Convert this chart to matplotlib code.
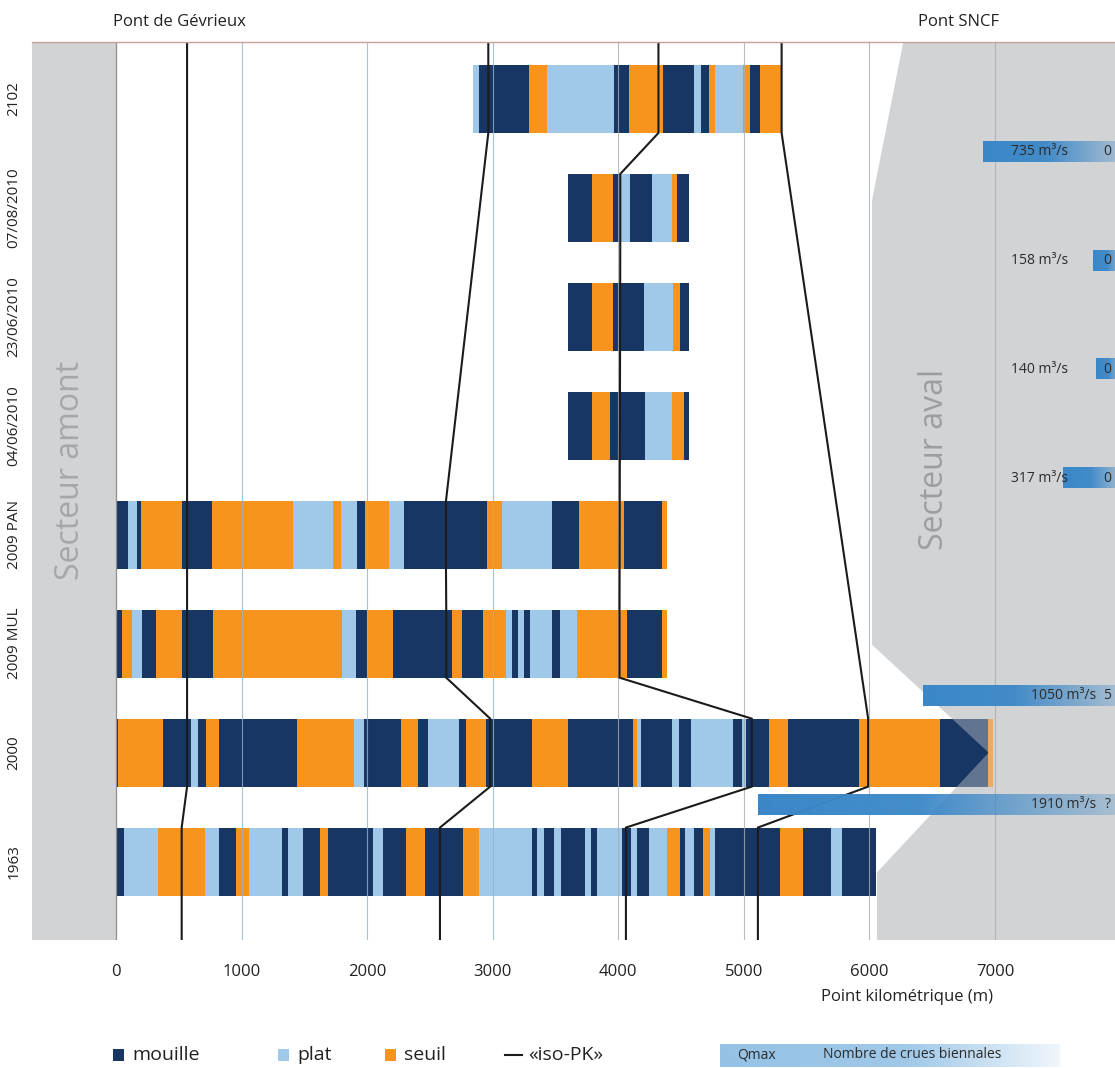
import numpy as np
import matplotlib
matplotlib.use("Agg")
import matplotlib.pyplot as plt
from matplotlib.patches import Rectangle, Polygon
from matplotlib.colors import to_rgba

plt.rcParams["font.family"] = ["Open Sans", "DejaVu Sans"]

# survey rows, top to bottom
rows = ["2102", "07/08/2010", "23/06/2010", "04/06/2010",
        "2009 PAN", "2009 MUL", "2000", "1963"]

# facies boundaries (PK, m) and class of each segment: m=mouille, p=plat, s=seuil
bounds_2102 = [2840, 2893, 3291, 3434, 3965, 4087, 4353, 4604, 4655, 4724, 4772,
               4994, 5048, 5127, 5300]
facies_2102 = "pmspmsmpmspsms"
bounds_0708 = [3601, 3792, 3959, 4007, 4092, 4270, 4424, 4464, 4565]
facies_0708 = "msmpmpsm"
bounds_2306 = [3601, 3792, 3959, 4204, 4432, 4490, 4565]
facies_2306 = "msmpsm"
bounds_0406 = [3601, 3792, 3933, 4212, 4424, 4522, 4565]
facies_0406 = "msmpsm"
bounds_pan = [0, 98, 170, 199, 523, 762, 1412, 1730, 1791, 1921, 1982, 2174, 2293,
              2956, 3076, 3474, 3686, 4045, 4345, 4385]
facies_pan = "mpmsmspspmspmspmsms"
bounds_mul = [0, 50, 130, 209, 318, 523, 770, 1797, 1911, 1996, 2203, 2673, 2752,
              2924, 3103, 3155, 3203, 3251, 3296, 3474, 3535, 3673, 4066, 4345, 4385]
facies_mul = "mspmsmspmsmsmspmpmpmpsms"
bounds_2000 = [0, 16, 372, 595, 655, 714, 822, 1443, 1895, 1975, 2267, 2407, 2486,
               2733, 2787, 2946, 3310, 3601, 4119, 4146, 4178, 4424, 4482, 4576,
               4910, 4982, 5021, 5201, 5353, 5918, 6561, 6945, 6985]
facies_2000 = "msmpmsmspmsmpmsmsmspmpmpmpmsmsms"
bounds_1963 = [0, 64, 337, 709, 822, 955, 1061, 1324, 1367, 1486, 1624, 1686, 2049,
               2128, 2307, 2460, 2765, 2890, 3310, 3349, 3410, 3490, 3541, 3734,
               3779, 3832, 4026, 4100, 4150, 4246, 4385, 4490, 4530, 4602, 4671,
               4729, 4769, 5287, 5472, 5693, 5783, 6056]
facies_1963 = "mpspmspmpmsmpmsmspmpmpmpmpmpmpsmpmspmsmpm"

all_bounds = [bounds_2102, bounds_0708, bounds_2306, bounds_0406,
              bounds_pan, bounds_mul, bounds_2000, bounds_1963]
all_facies = [facies_2102, facies_0708, facies_2306, facies_0406,
              facies_pan, facies_mul, facies_2000, facies_1963]

# iso-PK lines: rows where the line is anchored and its PK there
iso_rows = [[0, 6, 7], [0, 4, 5, 6, 7], [0, 1, 5, 6, 7], [0, 6, 7]]
iso_pk = [[566, 566, 523], [2965, 2628, 2630, 2980, 2580],
          [4320, 4016, 4010, 5063, 4061], [5301, 5990, 5112]]

# flood between two surveys (below row k): Qmax (m3/s) and nb of biennial floods
qmax = [735, 158, 140, 317, None, 1050, 1910]
n_crues = ["0", "0", "0", "0", None, "5", "?"]

# downstream sector outline (PK, row)
aval_pk = [6283, 6021, 6021, 6950, 6060, 6060, 8100, 8100]
aval_row = [-0.6, 0.93, 5.01, 6.0, 7.10, 7.8, 7.8, -0.6]

ticks = [0, 1000, 2000, 3000, 4000, 5000, 6000, 7000]

colors = {"m": "#183663", "p": "#9fc8e9", "s": "#f7941d"}
GREY = "#d1d3d4"
QBLUE = "#3a87c8"
W, H = 1115, 1068
XMIN, XMAX = -669, 7956
YTOP, YBOT = -0.523, 7.72
BAR_H = 0.624

fig = plt.figure(figsize=(W / 100, H / 100), dpi=100)
ax = fig.add_axes([32 / W, 1 - 940 / H, (W - 32) / W, (940 - 42) / H])

# sectors
ax.axvspan(XMIN, 0, color=GREY, lw=0, zorder=0)
aval = Polygon(np.column_stack([aval_pk, aval_row]), closed=True,
               facecolor=GREY, edgecolor="none", zorder=0)
ax.add_patch(aval)
ax.text(-366, 3.41, "Secteur amont", rotation=90, ha="center", va="center",
        fontsize=23, color="#a5a7aa", zorder=1)
ax.text(6522, 3.31, "Secteur aval", rotation=90, ha="center", va="center",
        fontsize=23, color="#9c9ea1", zorder=1)

# facies bars
for i, (b, f) in enumerate(zip(all_bounds, all_facies)):
    b = np.array(b)
    ax.barh(np.full(len(f), i), np.diff(b), left=b[:-1], height=BAR_H,
            color=[colors[c] for c in f], linewidth=0, zorder=2)

# grey wedge over the end of the 2000 bar
b2000 = all_bounds[6]
clip = Rectangle((b2000[0], 6 - BAR_H / 2), b2000[-1] - b2000[0], BAR_H,
                 transform=ax.transData)
over = Polygon(np.column_stack([aval_pk, aval_row]), closed=True,
               facecolor=GREY, edgecolor="none", alpha=0.4, zorder=3)
ax.add_patch(over)
over.set_clip_path(clip)

# grid
for t in ticks[1:]:
    ax.axvline(t, color="#8fb4d0" if t <= 3000 else "#a9abae", lw=0.8,
               alpha=0.8, zorder=3.5)
ax.axvline(0, color="#8d8f92", lw=0.9, zorder=3.5)

# iso-PK lines
for rr, pp in zip(iso_rows, iso_pk):
    xs, ys = [pp[0]], [YTOP]
    for r, p in zip(rr, pp):
        xs += [p, p]
        ys += [r - BAR_H / 2, r + BAR_H / 2]
    xs.append(pp[-1])
    ys.append(YBOT)
    ax.plot(xs, ys, color="#1b1b1b", lw=1.5, zorder=5, solid_joinstyle="miter")

# Qmax bars
QEND, QSCALE, QH = 8020, 1.52, 0.19
ramp = np.linspace(0, 1, 256)
grad = np.zeros((1, 256, 4))
grad[0, :, :3] = to_rgba(QBLUE)[:3]
grad[0, :, 3] = np.interp(ramp, [0, 0.45, 1], [1, 0.95, 0.25])
for k, (q, n) in enumerate(zip(qmax, n_crues)):
    if q is None:
        continue
    y = k + 0.48
    ax.imshow(grad, extent=[QEND - q * QSCALE, QEND, y + QH / 2, y - QH / 2],
              aspect="auto", interpolation="bilinear", zorder=6)
    xt = 7804 if q > 1000 else 7581
    ax.text(xt, y, f"{q} m³/s", ha="right", va="center", fontsize=10,
            color="#2b2b2b", zorder=7)
    ax.text(7895, y, n, ha="center", va="center", fontsize=10,
            color="#2b2b2b", zorder=7)

ax.set_xlim(XMIN, XMAX)
ax.set_ylim(YBOT, YTOP)
ax.set_xticks(ticks)
ax.set_xticklabels([str(t) for t in ticks], fontsize=12, color="#222222")
ax.tick_params(axis="x", length=0, pad=17)
ax.set_yticks([])
for s in ["left", "right", "bottom"]:
    ax.spines[s].set_visible(False)
ax.spines["top"].set_color("#c9a19b")
ax.spines["top"].set_linewidth(1.0)
ax.spines["top"].set_zorder(8)

for i, name in enumerate(rows):
    ax.text(-812, i, name, rotation=90, ha="center", va="center", fontsize=11,
            color="#222222", clip_on=False)

fig.text(113 / W, 1 - 22 / H, "Pont de Gévrieux", ha="left", va="center",
         fontsize=12, color="#222222")
fig.text(918 / W, 1 - 22 / H, "Pont SNCF", ha="left", va="center",
         fontsize=12, color="#222222")
fig.text(993 / W, 1 - 997 / H, "Point kilométrique (m)", ha="right",
         va="center", fontsize=12, color="#222222")

# legend
lax = fig.add_axes([0, 0, 1, 1])
lax.set_xlim(0, W)
lax.set_ylim(H, 0)
lax.axis("off")
ly = 1055
for x0, key, label in [(113, "m", "mouille"), (278, "p", "plat"), (385, "s", "seuil")]:
    lax.add_patch(Rectangle((x0, ly - 6), 11, 12, color=colors[key], lw=0))
    lax.text(x0 + 19, ly, label, ha="left", va="center", fontsize=14,
             color="#222222")
lax.plot([505, 522], [ly, ly], color="#1b1b1b", lw=1.5)
lax.text(528, ly, "«iso-PK»", ha="left", va="center", fontsize=14, color="#222222")
lgrad = np.zeros((1, 256, 4))
lgrad[0, :, :3] = to_rgba("#95c2e6")[:3]
lgrad[0, :, 3] = np.interp(ramp, [0, 0.55, 1], [1, 0.9, 0.15])
lax.imshow(lgrad, extent=[720, 1060, 1067, 1044], aspect="auto",
           interpolation="bilinear")
lax.text(737, ly, "Qmax", ha="left", va="center", fontsize=10, color="#2b2b2b")
lax.text(823, ly, "Nombre de crues biennales", ha="left", va="center",
         fontsize=10, color="#2b2b2b")
lax.set_xlim(0, W)
lax.set_ylim(H, 0)

fig.savefig("out.png", dpi=100)
